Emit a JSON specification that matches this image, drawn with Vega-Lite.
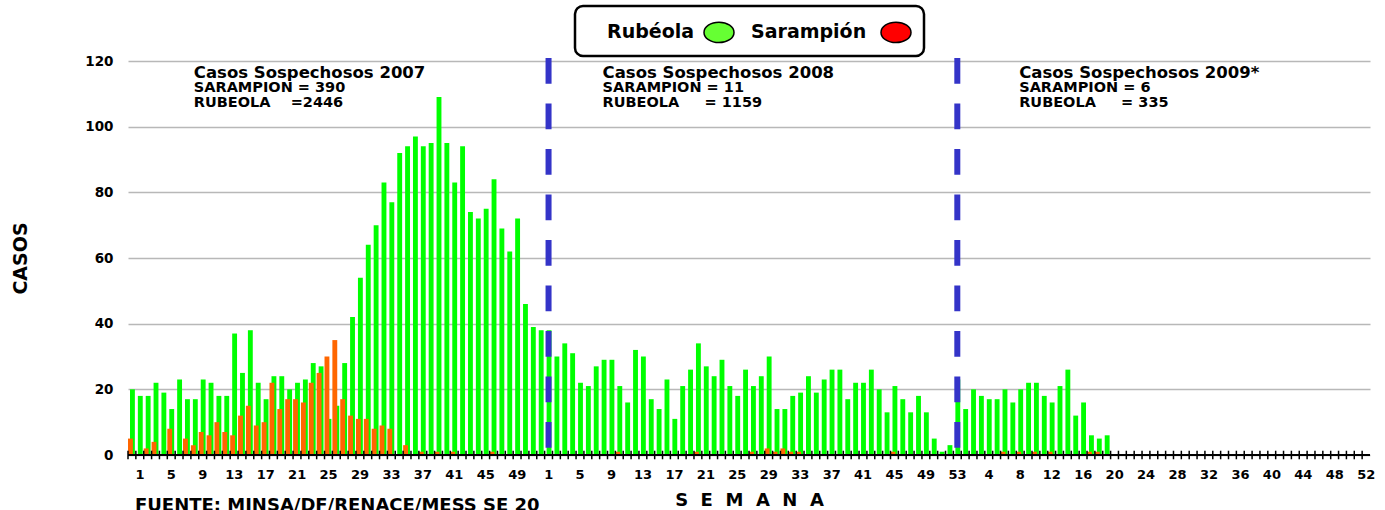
{
  "$schema": "https://vega.github.io/schema/vega-lite/v6.json",
  "width": 1242,
  "height": 394,
  "autosize": {"type": "none"},
  "padding": {"left": 128, "top": 61, "right": 15, "bottom": 55},
  "background": "white",
  "config": {
    "view": {"stroke": null},
    "font": "DejaVu Sans",
    "legend": {"layout": {"top": {"anchor": "middle"}}},
    "axisY": {
      "grid": true, "gridColor": "#b8b8b8", "gridWidth": 1.5, "ticks": false, "domain": false,
      "labelFont": "DejaVu Sans", "labelFontWeight": "bold", "labelFontSize": 13.5, "labelColor": "black", "labelPadding": 15,
      "titleFont": "DejaVu Sans", "titleFontWeight": "bold", "titleFontSize": 19, "titleColor": "black", "titlePadding": 54
    },
    "axisX": {
      "grid": false, "ticks": false, "domain": false, "labelAngle": 0, "labelOverlap": false,
      "labelFont": "DejaVu Sans", "labelFontWeight": "bold", "labelFontSize": 13, "labelColor": "black", "labelPadding": 13, "labelOffset": 8,
      "titleFont": "DejaVu Sans", "titleFontWeight": "bold", "titleFontSize": 18, "titleColor": "black", "titlePadding": 10
    }
  },
  "data": {"values": [
    {"i":0,"Rubéola":20,"Sarampión":5},{"i":1,"Rubéola":18,"Sarampión":0},{"i":2,"Rubéola":18,"Sarampión":2},{"i":3,"Rubéola":22,"Sarampión":4},
    {"i":4,"Rubéola":19,"Sarampión":0},{"i":5,"Rubéola":14,"Sarampión":8},{"i":6,"Rubéola":23,"Sarampión":0},{"i":7,"Rubéola":17,"Sarampión":5},
    {"i":8,"Rubéola":17,"Sarampión":3},{"i":9,"Rubéola":23,"Sarampión":7},{"i":10,"Rubéola":22,"Sarampión":6},{"i":11,"Rubéola":18,"Sarampión":10},
    {"i":12,"Rubéola":18,"Sarampión":7},{"i":13,"Rubéola":37,"Sarampión":6},{"i":14,"Rubéola":25,"Sarampión":12},{"i":15,"Rubéola":38,"Sarampión":15},
    {"i":16,"Rubéola":22,"Sarampión":9},{"i":17,"Rubéola":17,"Sarampión":10},{"i":18,"Rubéola":24,"Sarampión":22},{"i":19,"Rubéola":24,"Sarampión":14},
    {"i":20,"Rubéola":20,"Sarampión":17},{"i":21,"Rubéola":22,"Sarampión":17},{"i":22,"Rubéola":23,"Sarampión":16},{"i":23,"Rubéola":28,"Sarampión":22},
    {"i":24,"Rubéola":27,"Sarampión":25},{"i":25,"Rubéola":11,"Sarampión":30},{"i":26,"Rubéola":15,"Sarampión":35},{"i":27,"Rubéola":28,"Sarampión":17},
    {"i":28,"Rubéola":42,"Sarampión":12},{"i":29,"Rubéola":54,"Sarampión":11},{"i":30,"Rubéola":64,"Sarampión":11},{"i":31,"Rubéola":70,"Sarampión":8},
    {"i":32,"Rubéola":83,"Sarampión":9},{"i":33,"Rubéola":77,"Sarampión":8},{"i":34,"Rubéola":92,"Sarampión":0},{"i":35,"Rubéola":94,"Sarampión":3},
    {"i":36,"Rubéola":97,"Sarampión":0},{"i":37,"Rubéola":94,"Sarampión":1},{"i":38,"Rubéola":95,"Sarampión":0},{"i":39,"Rubéola":109,"Sarampión":1},
    {"i":40,"Rubéola":95,"Sarampión":0},{"i":41,"Rubéola":83,"Sarampión":1},{"i":42,"Rubéola":94,"Sarampión":0},{"i":43,"Rubéola":74,"Sarampión":0},
    {"i":44,"Rubéola":72,"Sarampión":0},{"i":45,"Rubéola":75,"Sarampión":0},{"i":46,"Rubéola":84,"Sarampión":1},{"i":47,"Rubéola":69,"Sarampión":0},
    {"i":48,"Rubéola":62,"Sarampión":0},{"i":49,"Rubéola":72,"Sarampión":0},{"i":50,"Rubéola":46,"Sarampión":0},{"i":51,"Rubéola":39,"Sarampión":0},
    {"i":52,"Rubéola":38,"Sarampión":0},{"i":53,"Rubéola":38,"Sarampión":0},{"i":54,"Rubéola":30,"Sarampión":0},{"i":55,"Rubéola":34,"Sarampión":0},
    {"i":56,"Rubéola":31,"Sarampión":0},{"i":57,"Rubéola":22,"Sarampión":0},{"i":58,"Rubéola":21,"Sarampión":0},{"i":59,"Rubéola":27,"Sarampión":0},
    {"i":60,"Rubéola":29,"Sarampión":0},{"i":61,"Rubéola":29,"Sarampión":0},{"i":62,"Rubéola":21,"Sarampión":1},{"i":63,"Rubéola":16,"Sarampión":0},
    {"i":64,"Rubéola":32,"Sarampión":0},{"i":65,"Rubéola":30,"Sarampión":0},{"i":66,"Rubéola":17,"Sarampión":0},{"i":67,"Rubéola":14,"Sarampión":0},
    {"i":68,"Rubéola":23,"Sarampión":0},{"i":69,"Rubéola":11,"Sarampión":0},{"i":70,"Rubéola":21,"Sarampión":0},{"i":71,"Rubéola":26,"Sarampión":0},
    {"i":72,"Rubéola":34,"Sarampión":1},{"i":73,"Rubéola":27,"Sarampión":0},{"i":74,"Rubéola":24,"Sarampión":0},{"i":75,"Rubéola":29,"Sarampión":0},
    {"i":76,"Rubéola":21,"Sarampión":0},{"i":77,"Rubéola":18,"Sarampión":0},{"i":78,"Rubéola":26,"Sarampión":0},{"i":79,"Rubéola":21,"Sarampión":1},
    {"i":80,"Rubéola":24,"Sarampión":0},{"i":81,"Rubéola":30,"Sarampión":2},{"i":82,"Rubéola":14,"Sarampión":1},{"i":83,"Rubéola":14,"Sarampión":2},
    {"i":84,"Rubéola":18,"Sarampión":1},{"i":85,"Rubéola":19,"Sarampión":1},{"i":86,"Rubéola":24,"Sarampión":0},{"i":87,"Rubéola":19,"Sarampión":0},
    {"i":88,"Rubéola":23,"Sarampión":0},{"i":89,"Rubéola":26,"Sarampión":0},{"i":90,"Rubéola":26,"Sarampión":0},{"i":91,"Rubéola":17,"Sarampión":0},
    {"i":92,"Rubéola":22,"Sarampión":0},{"i":93,"Rubéola":22,"Sarampión":0},{"i":94,"Rubéola":26,"Sarampión":0},{"i":95,"Rubéola":20,"Sarampión":0},
    {"i":96,"Rubéola":13,"Sarampión":0},{"i":97,"Rubéola":21,"Sarampión":1},{"i":98,"Rubéola":17,"Sarampión":0},{"i":99,"Rubéola":13,"Sarampión":0},
    {"i":100,"Rubéola":18,"Sarampión":0},{"i":101,"Rubéola":13,"Sarampión":0},{"i":102,"Rubéola":5,"Sarampión":0},{"i":103,"Rubéola":1,"Sarampión":0},
    {"i":104,"Rubéola":3,"Sarampión":0},{"i":105,"Rubéola":23,"Sarampión":0},{"i":106,"Rubéola":14,"Sarampión":0},{"i":107,"Rubéola":20,"Sarampión":0},
    {"i":108,"Rubéola":18,"Sarampión":0},{"i":109,"Rubéola":17,"Sarampión":0},{"i":110,"Rubéola":17,"Sarampión":0},{"i":111,"Rubéola":20,"Sarampión":1},
    {"i":112,"Rubéola":16,"Sarampión":0},{"i":113,"Rubéola":20,"Sarampión":1},{"i":114,"Rubéola":22,"Sarampión":0},{"i":115,"Rubéola":22,"Sarampión":1},
    {"i":116,"Rubéola":18,"Sarampión":0},{"i":117,"Rubéola":16,"Sarampión":1},{"i":118,"Rubéola":21,"Sarampión":0},{"i":119,"Rubéola":26,"Sarampión":0},
    {"i":120,"Rubéola":12,"Sarampión":0},{"i":121,"Rubéola":16,"Sarampión":0},{"i":122,"Rubéola":6,"Sarampión":1},{"i":123,"Rubéola":5,"Sarampión":1},
    {"i":124,"Rubéola":6,"Sarampión":0},
    {"i":125},{"i":126},{"i":127},{"i":128},{"i":129},{"i":130},{"i":131},{"i":132},{"i":133},{"i":134},{"i":135},
    {"i":136},{"i":137},{"i":138},{"i":139},{"i":140},{"i":141},{"i":142},{"i":143},{"i":144},{"i":145},{"i":146},
    {"i":147},{"i":148},{"i":149},{"i":150},{"i":151},{"i":152},{"i":153},{"i":154},{"i":155},{"i":156},{"i":157}
  ]},
  "layer": [
    {
      "data": {"values": [{"serie": "Rubéola"}, {"serie": "Sarampión"}]},
      "mark": {"type": "point", "filled": true, "opacity": 0},
      "encoding": {
        "color": {
          "field": "serie", "type": "nominal",
          "scale": {"domain": ["Rubéola", "Sarampión"], "range": ["#66ff33", "#ff0000"]},
          "legend": {
            "title": null, "orient": "top", "direction": "horizontal", "offset": 5, "padding": 10,
            "strokeColor": "black", "cornerRadius": 8, "fillColor": "white",
            "symbolType": "M-1,0A1,0.68 0 1,0 1,0A1,0.68 0 1,0 -1,0Z", "symbolSize": 900,
            "symbolStrokeColor": "black", "symbolStrokeWidth": 1.5, "symbolOpacity": 1,
            "labelFont": "DejaVu Sans", "labelFontWeight": "bold", "labelFontSize": 19, "labelColor": "black",
            "columnPadding": 14,
            "encode": {
              "legend": {"update": {"strokeWidth": {"value": 2.5}}},
              "symbols": {"update": {"x": {"signal": "datum.value === 'Rubéola' ? 134 : 145"}, "stroke": {"value": "black"}, "strokeWidth": {"value": 1.5}, "opacity": {"value": 1}}},
              "labels": {"update": {"align": {"value": "left"}, "x": {"signal": "datum.value === 'Rubéola' ? 22 : 0"}}}
            }
          }
        }
      }
    },
    {
      "mark": {"type": "bar", "width": {"band": 0.62}, "xOffset": 0.5, "color": "#00ff00"},
      "encoding": {
        "x": {
          "field": "i", "type": "ordinal", "title": "S\u00a0\u00a0E\u00a0\u00a0M\u00a0\u00a0A\u00a0\u00a0N\u00a0\u00a0A",
          "scale": {"paddingInner": 0, "paddingOuter": 0},
          "axis": {"labelExpr": "datum.value % 4 == 0 ? '' + (datum.value < 52 ? datum.value + 1 : datum.value < 105 ? datum.value - 51 : datum.value - 104) : ''"}
        },
        "y": {
          "field": "Rubéola", "type": "quantitative", "title": "CASOS",
          "scale": {"domain": [0, 120], "nice": false},
          "axis": {"values": [0, 20, 40, 60, 80, 100, 120]}
        }
      }
    },
    {
      "mark": {"type": "bar", "width": {"band": 0.62}, "xOffset": -1.5, "color": "#ff6600"},
      "encoding": {
        "x": {"field": "i", "type": "ordinal", "title": "S\u00a0\u00a0E\u00a0\u00a0M\u00a0\u00a0A\u00a0\u00a0N\u00a0\u00a0A"},
        "y": {"field": "Sarampión", "type": "quantitative", "title": "CASOS"}
      }
    },
    {
      "mark": {"type": "rule", "color": "black", "strokeWidth": 2},
      "encoding": {"y": {"datum": 0}}
    },
    {
      "mark": {"type": "rule", "color": "black", "strokeWidth": 1.5, "xOffset": -3.93},
      "encoding": {
        "x": {"field": "i", "type": "ordinal", "title": "S\u00a0\u00a0E\u00a0\u00a0M\u00a0\u00a0A\u00a0\u00a0N\u00a0\u00a0A"},
        "y": {"datum": -1.3},
        "y2": {"datum": 1.3}
      }
    },
    {
      "data": {"values": [{"i": 53}, {"i": 105}]},
      "mark": {"type": "rule", "color": "#3434c8", "strokeWidth": 6, "strokeDash": [25.6, 19.9]},
      "encoding": {
        "x": {"field": "i", "type": "ordinal", "title": "S\u00a0\u00a0E\u00a0\u00a0M\u00a0\u00a0A\u00a0\u00a0N\u00a0\u00a0A"},
        "y": {"datum": 120.9},
        "y2": {"datum": 0}
      }
    },
    {
      "data": {"values": [
        {"i": 8, "v": 114.9, "t": "Casos Sospechosos 2007"},
        {"i": 60, "v": 114.9, "t": "Casos Sospechosos 2008"},
        {"i": 113, "v": 114.9, "t": "Casos Sospechosos 2009*"}
      ]},
      "mark": {"type": "text", "align": "left", "baseline": "alphabetic", "font": "DejaVu Sans", "fontWeight": "bold", "fontSize": 16.5, "color": "black", "dx": -1},
      "encoding": {
        "x": {"field": "i", "type": "ordinal", "title": "S\u00a0\u00a0E\u00a0\u00a0M\u00a0\u00a0A\u00a0\u00a0N\u00a0\u00a0A"},
        "y": {"field": "v", "type": "quantitative", "title": "CASOS"},
        "text": {"field": "t"}
      }
    },
    {
      "data": {"values": [
        {"i": 8, "v": 110.5, "t": "SARAMPION = 390"},
        {"i": 8, "v": 105.9, "t": "RUBEOLA\u00a0\u00a0\u00a0\u00a0=2446"},
        {"i": 60, "v": 110.5, "t": "SARAMPION = 11"},
        {"i": 60, "v": 105.9, "t": "RUBEOLA\u00a0\u00a0\u00a0\u00a0\u00a0= 1159"},
        {"i": 113, "v": 110.5, "t": "SARAMPION = 6"},
        {"i": 113, "v": 105.9, "t": "RUBEOLA\u00a0\u00a0\u00a0\u00a0\u00a0= 335"}
      ]},
      "mark": {"type": "text", "align": "left", "baseline": "alphabetic", "font": "DejaVu Sans", "fontWeight": "bold", "fontSize": 14.5, "color": "black", "dx": -1},
      "encoding": {
        "x": {"field": "i", "type": "ordinal", "title": "S\u00a0\u00a0E\u00a0\u00a0M\u00a0\u00a0A\u00a0\u00a0N\u00a0\u00a0A"},
        "y": {"field": "v", "type": "quantitative", "title": "CASOS"},
        "text": {"field": "t"}
      }
    },
    {
      "data": {"values": [
        {"i": 0, "v": -17.2, "t": "FUENTE: MINSA/DF/RENACE/MESS SE 20"}
      ]},
      "mark": {"type": "text", "align": "left", "baseline": "alphabetic", "font": "DejaVu Sans", "fontWeight": "bold", "fontSize": 18, "color": "black", "dx": 3},
      "encoding": {
        "x": {"field": "i", "type": "ordinal", "title": "S\u00a0\u00a0E\u00a0\u00a0M\u00a0\u00a0A\u00a0\u00a0N\u00a0\u00a0A"},
        "y": {"field": "v", "type": "quantitative", "title": "CASOS"},
        "text": {"field": "t"}
      }
    }
  ]
}
